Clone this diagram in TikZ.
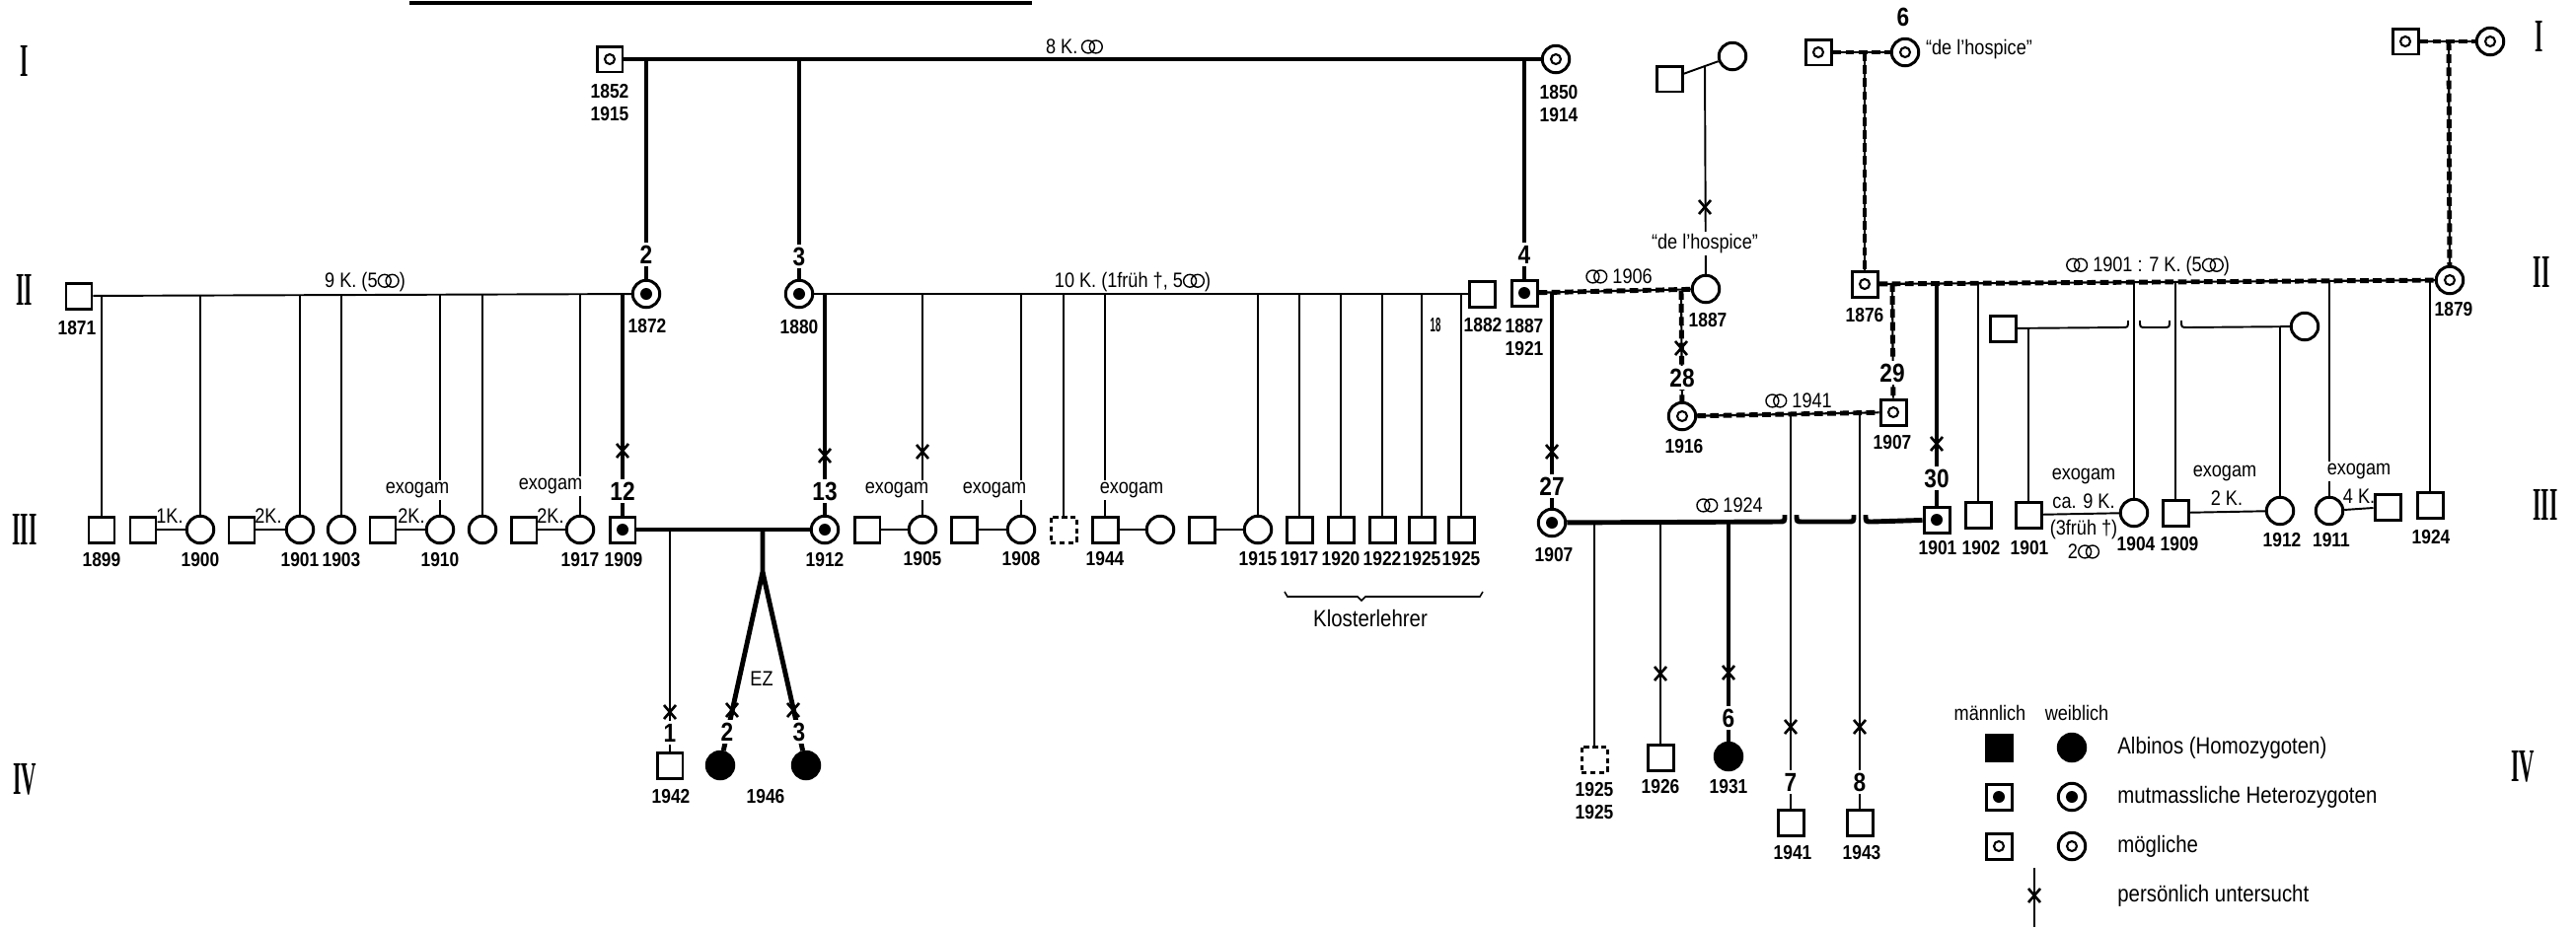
\documentclass[tikz,border=0pt]{standalone}
\usepackage{fontspec}
\usepackage{graphicx}
\setmainfont{Liberation Sans}
\newfontfamily\schmal[FakeStretch=0.86]{Liberation Sans}
\newfontfamily\romfont{Liberation Serif}
\usetikzlibrary{backgrounds}

% Schriften
\newcommand{\jahrfont}{\schmal\fontsize{11.5}{13}\selectfont\bfseries}
\newcommand{\nrfont}{\schmal\fontsize{15}{15}\selectfont\bfseries}
\newcommand{\notizfont}{\schmal\fontsize{12}{13}\selectfont}
\newcommand{\legfont}{\schmal\fontsize{13.5}{15}\selectfont}
\newcommand{\genfont}{\fontsize{27}{27}\selectfont\romfont\bfseries}
\newcommand{\genzahl}[1]{\scalebox{0.45}[1]{#1}}
% Ehezeichen
\newcommand{\ehe}{\tikz[baseline=-0.6ex,x=1ex,y=1ex,line width=0.8pt]{\draw (0,0) circle (0.58) (0.7,0) circle (0.58);}}

\tikzset{
  mann/.style={draw, line width=1.7pt, minimum size=0.52cm, inner sep=0pt, fill=white},
  frau/.style={draw, circle, line width=1.7pt, minimum size=0.55cm, inner sep=0pt, fill=white},
  albino/.style={fill=black},
  hetero/.style={path picture={\fill[black] (path picture bounding box.center) circle (0.12cm);}},
  moegl/.style={path picture={\draw[black, line width=1.2pt] (path picture bounding box.center) circle (0.1cm);}},
  unbek/.style={dash pattern=on 3pt off 2pt},
  jahr/.style={font=\jahrfont, inner sep=0pt, align=center},
  nr/.style={font=\nrfont, fill=white, inner sep=1.5pt},
  notiz/.style={font=\notizfont, inner sep=1pt, align=center},
  exo/.style={notiz, fill=white},
  legende/.style={font=\legfont, inner sep=0pt},
  gen/.style={font=\genfont, inner sep=0pt},
  duenn/.style={line width=1.1pt},
  dick/.style={line width=2.8pt},
  moeglich/.style={line width=1.2pt, postaction={draw, line width=2.8pt, dash pattern=on 5pt off 2.5pt}},
  kreuz/.pic={\draw[line width=1.5pt] (-6,-7) -- (6,7) (-6,7) -- (6,-7);}
}

\begin{document}
\begin{tikzpicture}[x=0.02cm, y=-0.02cm]
\useasboundingbox (0,0) rectangle (2611,941);

% Generationen
\node[gen] (gIl) at (25,62) {\genzahl{I}};
\node[gen] (gIIl) at (25,294) {\genzahl{II}};
\node[gen] (gIIIl) at (25,537) {\genzahl{III}};
\node[gen] (gIVl) at (25,790) {\genzahl{IV}};
\node[gen] (gIr) at (2574,37) {\genzahl{I}};
\node[gen] (gIIr) at (2576,276) {\genzahl{II}};
\node[gen] (gIIIr) at (2580,512) {\genzahl{III}};
\node[gen] (gIVr) at (2557,777) {\genzahl{IV}};

% Linie oben
\draw[line width=2pt] (415,3) -- (1046,3);

% Generation I
\node[mann, moegl] (g1m) at (618,60) {};
\node[frau, moegl] (g1f) at (1577,60) {};
\node[jahr] (g1mj) at (618,104) {1852\\1915};
\node[jahr] (g1fj) at (1580,105) {1850\\1914};
\node[notiz] (g1k) at (1089,47) {8 K.\,\ehe};

\node[mann] (pm) at (1692,80) {};
\node[frau] (pf) at (1756,57) {};
\node[mann, moegl] (m6) at (1843,53) {};
\node[frau, moegl] (f6) at (1931,53) {};
\node[nr, fill=none] (nr6a) at (1929,17) {6};
\node[notiz, anchor=west] (hosp1) at (1950,50) {“de l’hospice”};
\node[mann, moegl] (m7) at (2438,42) {};
\node[frau, moegl] (f7) at (2524,42) {};

% Generation II
\node[mann] (a1871) at (80,300) {};
\node[frau, hetero] (n2) at (655,298) {};
\node[frau, hetero] (n3) at (810,298) {};
\node[mann] (a1882) at (1502,298) {};
\node[mann, hetero] (n4) at (1545,297) {};
\node[frau] (w4) at (1729,293) {};
\node[mann, moegl] (a1876) at (1890,288) {};
\node[frau, moegl] (a1879) at (2483,284) {};
\node[jahr] (a1871j) at (78,333) {1871};
\node[jahr] (n2j) at (656,331) {1872};
\node[jahr] (n3j) at (810,332) {1880};
\node[jahr] (artj) at (1455,330) {\scalebox{0.55}[1]{18}};
\node[jahr] (a1882j) at (1503,330) {1882};
\node[jahr] (n4j) at (1545,342) {1887\\1921};
\node[jahr] (w4j) at (1731,325) {1887};
\node[jahr] (a1876j) at (1890,320) {1876};
\node[jahr] (a1879j) at (2487,314) {1879};
\node[notiz] (k9) at (370,286) {9 K. (5\ehe)};
\node[notiz] (k10) at (1148,286) {10 K. (1früh †, 5\ehe)};
\node[notiz] (e1906) at (1641,280) {\ehe\ 1906};
\node[notiz] (e1901) at (2177,270) {\ehe\ 1901 : 7 K. (5\ehe)};
\node[exo] (hosp2) at (1728,247) {“de l’hospice”};
\node[nr] (nr2) at (655,258) {2};
\node[nr] (nr3) at (810,260) {3};
\node[nr] (nr4) at (1545,258) {4};

% Generation III links
\node[mann] (b1899) at (103,537) {};
\node[mann] (p1) at (145,537) {};
\node[frau] (b1900) at (203,537) {};
\node[mann] (p2) at (245,537) {};
\node[frau] (b1901) at (304,537) {};
\node[frau] (b1903) at (346,537) {};
\node[mann] (p3) at (388,537) {};
\node[frau] (b1910) at (446,537) {};
\node[frau] (b1x) at (489,537) {};
\node[mann] (p4) at (531,537) {};
\node[frau] (b1917) at (588,537) {};
\node[mann, hetero] (n12) at (631,537) {};
\node[frau, hetero] (n13) at (836,537) {};
\foreach \n/\x/\j in {b1899/103/1899, b1900/203/1900, b1901/304/1901, b1903/346/1903,
    b1910/446/1910, b1917/588/1917, n12/632/1909, n13/836/1912}
  \node[jahr] (\n j) at (\x,568) {\j};
\node[notiz] (k1a) at (172,523) {1K.};
\node[notiz] (k2a) at (272,523) {2K.};
\node[notiz] (k2b) at (417,523) {2K.};
\node[notiz] (k2c) at (558,523) {2K.};
\node[exo] (exo1) at (423,497) {exogam};
\node[exo] (exo2) at (558,493) {exogam};
\node[nr] (nr12) at (631,498) {12};
\node[nr] (nr13) at (836,498) {13};

% Generation III Mitte
\node[mann] (p5) at (879,537) {};
\node[frau] (b1905) at (935,537) {};
\node[mann] (p6) at (977,537) {};
\node[frau] (b1908) at (1035,537) {};
\node[mann, unbek] (bq) at (1078,537) {};
\node[mann] (b1944) at (1120,537) {};
\node[frau] (p7) at (1176,537) {};
\node[mann] (p8) at (1218,537) {};
\node[frau] (b1915) at (1275,537) {};
\node[mann] (k1917) at (1317,537) {};
\node[mann] (k1920) at (1359,537) {};
\node[mann] (k1922) at (1401,537) {};
\node[mann] (k1925a) at (1441,537) {};
\node[mann] (k1925b) at (1481,537) {};
\foreach \n/\x/\j in {b1905/935/1905, b1908/1035/1908, b1944/1120/1944, b1915/1275/1915,
    k1917/1317/1917, k1920/1359/1920, k1922/1401/1922, k1925a/1441/1925, k1925b/1481/1925}
  \node[jahr] (\n j) at (\x,567) {\j};
\node[exo] (exo3) at (909,497) {exogam};
\node[exo] (exo4) at (1008,497) {exogam};
\node[exo] (exo5) at (1147,497) {exogam};
\node[legende] (kl) at (1389,627) {Klosterlehrer};

% Generation III rechts
\node[frau, hetero] (n27) at (1573,530) {};
\node[frau, moegl] (n28) at (1705,422) {};
\node[mann, moegl] (n29) at (1919,418) {};
\node[mann, hetero] (n30) at (1963,527) {};
\node[mann] (s1902) at (2005,522) {};
\node[mann] (inl) at (2030,333) {};
\node[frau] (inlf) at (2336,331) {};
\node[mann] (s1901) at (2056,522) {};
\node[frau] (c1904) at (2163,520) {};
\node[mann] (s1909) at (2205,520) {};
\node[frau] (c1912) at (2311,518) {};
\node[frau] (c1911) at (2361,518) {};
\node[mann] (s4k) at (2420,514) {};
\node[mann] (s1924) at (2463,512) {};
\node[jahr] (n27j) at (1575,563) {1907};
\node[jahr] (n28j) at (1707,453) {1916};
\node[jahr] (n29j) at (1918,449) {1907};
\node[jahr] (n30j) at (1964,556) {1901};
\node[jahr] (s1902j) at (2008,556) {1902};
\node[jahr] (s1901j) at (2057,556) {1901};
\node[jahr] (c1904j) at (2165,552) {1904};
\node[jahr] (s1909j) at (2209,552) {1909};
\node[jahr] (c1912j) at (2313,548) {1912};
\node[jahr] (c1911j) at (2363,548) {1911};
\node[jahr] (s1924j) at (2464,545) {1924};
\node[nr] (nr27) at (1573,493) {27};
\node[nr] (nr28) at (1705,383) {28};
\node[nr] (nr29) at (1918,378) {29};
\node[nr] (nr30) at (1963,485) {30};
\node[notiz] (e1941) at (1823,406) {\ehe\ 1941};
\node[notiz] (e1924) at (1753,512) {\ehe\ 1924};
\node[exo] (exo6) at (2112,483) {exogam};
\node[notiz] (k9b) at (2112,508) {ca. 9 K.};
\node[notiz] (fr3) at (2112,537) {(3früh †)};
\node[notiz] (eh2) at (2112,559) {2\ehe};
\node[exo] (exo7) at (2255,480) {exogam};
\node[notiz] (k2d) at (2257,505) {2 K.};
\node[exo] (exo8) at (2391,478) {exogam};
\node[notiz] (k4) at (2391,503) {4 K.};

% Generation IV
\node[mann] (c1942) at (679,776) {};
\node[frau, albino] (tw2) at (730,776) {};
\node[frau, albino] (tw3) at (817,776) {};
\node[mann, unbek] (d1925) at (1616,770) {};
\node[mann] (s1926) at (1683,768) {};
\node[frau, albino] (n6) at (1752,767) {};
\node[mann] (s7) at (1815,834) {};
\node[mann] (s8) at (1885,834) {};
\node[jahr] (c1942j) at (680,808) {1942};
\node[jahr] (twj) at (776,808) {1946};
\node[jahr] (d1925j) at (1616,812) {1925\\1925};
\node[jahr] (s1926j) at (1683,798) {1926};
\node[jahr] (n6j) at (1752,798) {1931};
\node[jahr] (s7j) at (1817,865) {1941};
\node[jahr] (s8j) at (1887,865) {1943};
\node[nr] (nr1) at (679,743) {1};
\node[nr] (nr2b) at (737,742) {2};
\node[nr] (nr3b) at (810,742) {3};
\node[nr] (nr6) at (1752,728) {6};
\node[nr] (nr7) at (1815,793) {7};
\node[nr] (nr8) at (1885,793) {8};
\node[notiz] (ezl) at (772,688) {EZ};

% Legende
\node[notiz] (lgm) at (2017,723) {männlich};
\node[notiz] (lgw) at (2105,723) {weiblich};
\node[mann, albino] (lgA) at (2026,758) {};
\node[frau, albino] (lgAf) at (2100,758) {};
\node[mann, hetero] (lgH) at (2026,808) {};
\node[frau, hetero] (lgHf) at (2100,808) {};
\node[mann, moegl] (lgM) at (2026,858) {};
\node[frau, moegl] (lgMf) at (2100,858) {};
\node[legende, anchor=west] (lgt1) at (2146,758) {Albinos (Homozygoten)};
\node[legende, anchor=west] (lgt2) at (2146,808) {mutmassliche Heterozygoten};
\node[legende, anchor=west] (lgt3) at (2146,858) {mögliche};
\node[legende, anchor=west] (lgt4) at (2146,908) {persönlich untersucht};
\coordinate (lgx1) at (2062,880);
\coordinate (lgx2) at (2062,940);

% Verbindungen
\begin{scope}[on background layer]
  % Generation I
  \draw[dick] (g1m) -- (g1f);
  \coordinate (d2) at (655,61);
  \coordinate (d3) at (810,61);
  \coordinate (d4) at (1545,61);
  \draw[dick] (d2) -- (n2);
  \draw[dick] (d3) -- (n3);
  \draw[dick] (d4) -- (n4);
  \draw[duenn] (pm) -- (pf);
  \coordinate (dh) at (1728,67);
  \draw[duenn] (dh) -- (w4);
  \draw[moeglich] (m6) -- (f6);
  \coordinate (d6) at (1890,53);
  \draw[moeglich] (d6) -- (a1876);
  \draw[moeglich] (m7) -- (f7);
  \coordinate (d7) at (2482,42);
  \draw[moeglich] (d7) -- (a1879);

  % Geschwister 9 K.
  \draw[duenn] (a1871) -- (n2);
  \foreach \n/\x in {b1899/103, b1900/203, b1901/304, b1903/346, b1910/446, b1x/489, b1917/588}
    \draw[duenn] (\x,299) -- (\n);
  \coordinate (d12) at (631,299);
  \draw[dick] (d12) -- (n12);
  \foreach \a/\b in {p1/b1900, p2/b1901, p3/b1910, p4/b1917}
    \draw[duenn] (\a) -- (\b);

  % Geschwister 10 K.
  \draw[duenn] (n3) -- (a1882);
  \coordinate (d13) at (836,299);
  \draw[dick] (d13) -- (n13);
  \foreach \n/\x in {b1905/935, b1908/1035, bq/1078, b1944/1120, b1915/1275,
      k1917/1317, k1920/1359, k1922/1401, k1925a/1441, k1925b/1481}
    \draw[duenn] (\x,299) -- (\n);
  \foreach \a/\b in {p5/b1905, p6/b1908, b1944/p7, p8/b1915}
    \draw[duenn] (\a) -- (\b);
  \draw[line width=0.9pt] (1302,600) -- (1305,605) -- (1376,605) -- (1380,609) -- (1384,605) -- (1500,605) -- (1503,600);

  % Ehe 12 x 13
  \draw[dick] (n12) -- (n13);
  \coordinate (d1942) at (679,537);
  \draw[duenn] (d1942) -- (c1942);
  \coordinate (dtw) at (773,537);
  \coordinate (ez) at (773,580);
  \draw[dick] (dtw) -- (ez) -- (tw2);
  \draw[dick] (ez) -- (tw3);

  % Ehe 1906
  \draw[moeglich] (n4) -- (w4);
  \coordinate (d27) at (1573,296);
  \draw[dick] (d27) -- (n27);
  \coordinate (d28) at (1704,295);
  \draw[moeglich] (d28) -- (n28);

  % Ehe 1941
  \draw[moeglich] (n28) -- (n29);
  \coordinate (d7a) at (1815,420);
  \coordinate (d8a) at (1885,419);
  \draw[duenn] (d7a) -- (s7);
  \draw[duenn] (d8a) -- (s8);

  % Ehe 1924
  \draw[dick] (n27) -- (1803,529) .. controls (1809,529) .. (1809,522)
    (1821,522) .. controls (1821,529) .. (1827,529) -- (1873,529)
    .. controls (1879,529) .. (1879,522) (1891,522) .. controls (1891,529) .. (1897,529) -- (n30);
  \coordinate (dd1) at (1616,530);
  \coordinate (dd2) at (1683,530);
  \coordinate (dd3) at (1752,530);
  \draw[duenn] (dd1) -- (d1925);
  \draw[duenn] (dd2) -- (s1926);
  \draw[dick] (dd3) -- (n6);

  % Ehe 1901
  \draw[moeglich] (a1876) -- (a1879);
  \coordinate (d29) at (1918,287);
  \draw[moeglich] (d29) -- (n29);
  \coordinate (d30) at (1963,287);
  \draw[dick] (d30) -- (n30);
  \foreach \n/\x in {s1902/2005, c1904/2163, s1909/2205, c1911/2361, s1924/2463}
    \draw[duenn] (\x,286) -- (\n);
  \draw[duenn] (inl) -- (2151,332) .. controls (2157,332) .. (2157,325)
    (2169,325) .. controls (2169,332) .. (2175,332) -- (2193,332)
    .. controls (2199,332) .. (2199,325) (2211,325) .. controls (2211,332) .. (2217,332) -- (inlf);
  \coordinate (di1) at (2056,332);
  \coordinate (di2) at (2311,332);
  \draw[duenn] (di1) -- (s1901);
  \draw[duenn] (di2) -- (c1912);
  \foreach \a/\b in {s1901/c1904, s1909/c1912, c1911/s4k}
    \draw[duenn] (\a) -- (\b);

  % Legende
  \draw[duenn] (lgx1) -- (lgx2);
\end{scope}

% persoenlich untersucht
\foreach \p in {(631,457), (836,462), (935,458), (679,722), (742,720), (804,720),
    (1573,458), (1704,353), (1728,210), (1963,450), (1683,683), (1752,682),
    (1815,737), (1885,737), (2062,908)}
  \pic at \p {kreuz};
\end{tikzpicture}
\end{document}
